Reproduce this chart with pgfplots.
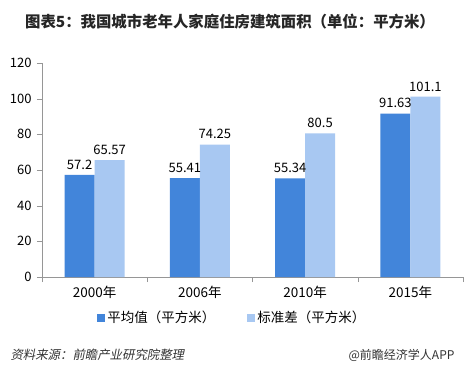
\documentclass[border=0pt]{standalone}
\usepackage{pgfplots}
\pgfplotsset{compat=1.18}
\usepackage{fontspec}
\setmainfont{Noto Sans CJK SC}
\newfontfamily\cjkit[FakeSlant=0.2]{Noto Sans CJK SC}
\definecolor{darkb}{RGB}{66,133,218}
\definecolor{lightb}{RGB}{168,200,242}
\definecolor{axg}{RGB}{150,150,150}
\begin{document}
\begin{tikzpicture}[x=1pt,y=1pt]
\path[use as bounding box, fill=white] (0,0) rectangle (466,375);
\node[font=\fontsize{15.4}{17}\selectfont\bfseries, text=black!85] at (230,353) {图表5：我国城市老年人家庭住房建筑面积（单位：平方米）};
\begin{axis}[
  at={(42pt,98pt)}, anchor=south west,
  scale only axis, width=421pt, height=214pt,
  xmin=-0.5, xmax=3.5, ymin=0, ymax=120,
  axis x line=bottom, axis y line=left,
  axis line style={-, draw=axg},
  ybar, bar width=30pt,
  xtick={-0.5,0.5,1.5,2.5,3.5},
  x tick label as interval,
  xticklabels={2000年,2006年,2010年,2015年},
  ytick={0,20,...,120},
  tick style={draw=axg},
  major tick length=5pt,
  tick align=outside,
  y tick label style={font=\fontsize{13}{15}\selectfont, xshift=-2pt},
  x tick label style={font=\fontsize{13.5}{15}\selectfont, yshift=-1pt},
  /pgf/number format/assume math mode=true,
  nodes near coords,
  nodes near coords style={font=\fontsize{13}{15}\selectfont, text=black, anchor=south, yshift=2pt},
  legend style={at={(0.452,-0.19)}, anchor=center, draw=none, fill=none,
    font=\fontsize{13.5}{15}\selectfont, legend columns=2,
    /tikz/every even column/.append style={column sep=30pt}},
  legend image code/.code={\fill[#1] (0pt,-4pt) rectangle (8pt,4pt);},
]
\addplot[fill=darkb, draw=none, bar shift=-15pt] coordinates {(0,57.2) (1,55.41) (2,55.34) (3,91.63)};
\addplot[fill=lightb, draw=none, bar shift=15pt] coordinates {(0,65.57) (1,74.25) (2,80.5) (3,101.1)};
\legend{平均值（平方米）,标准差（平方米）}
\end{axis}
\node[anchor=west, font=\fontsize{12.4}{14}\selectfont\cjkit, text=black!80] at (7,20) {资料来源：前瞻产业研究院整理};
\node[anchor=east, font=\fontsize{12}{14}\selectfont, text=black!80] at (458,20) {@前瞻经济学人APP};
\end{tikzpicture}
\end{document}
